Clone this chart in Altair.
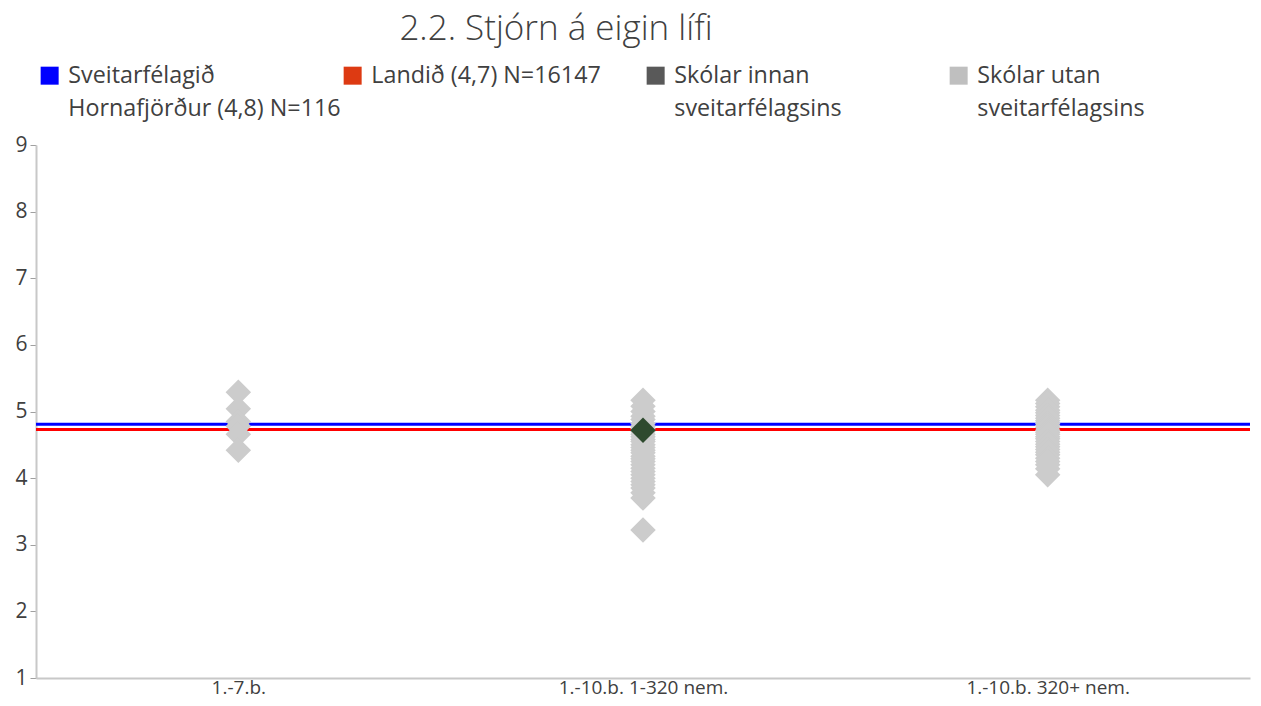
import altair as alt
import pandas as pd

# ---- data ----
categories = ["1.-7.b.", "1.-10.b. 1-320 nem.", "1.-10.b. 320+ nem."]

# schools outside the municipality (light grey diamonds)
cat1_values = [5.29, 5.04, 4.85, 4.78, 4.66, 4.42]
cat2_values = [5.17, 5.08, 5.00, 4.93, 4.88, 4.82, 4.78, 4.74, 4.70, 4.66,
               4.62, 4.58, 4.55, 4.50, 4.46, 4.42, 4.38, 4.33, 4.29, 4.25,
               4.20, 4.15, 4.10, 4.05, 4.00, 3.95, 3.90, 3.85, 3.78, 3.70, 3.22]
cat3_values = [5.17, 5.12, 5.07, 5.02, 4.98, 4.94, 4.90, 4.86, 4.82, 4.79,
               4.76, 4.72, 4.69, 4.66, 4.62, 4.59, 4.55, 4.51, 4.47, 4.43,
               4.39, 4.35, 4.30, 4.25, 4.20, 4.14, 4.05]

# school inside the municipality (dark diamond)
inside_category = ["1.-10.b. 1-320 nem."]
inside_values = [4.72]

# reference lines
ref_names = ["Sveitarfélagið Hornafjörður (4,8) N=116", "Landið (4,7) N=16147"]
ref_values = [4.81, 4.73]
ref_colors = ["#0000FF", "#FF0000"]

# legend
legend_names = ["Sveitarfélagið|Hornafjörður (4,8) N=116",
                "Landið (4,7) N=16147| ",
                "Skólar innan|sveitarfélagsins",
                "Skólar utan|sveitarfélagsins"]
legend_colors = ["#0000FF", "#DD3A12", "#595959", "#BFBFBF"]

y_ticks = [1, 2, 3, 4, 5, 6, 7, 8, 9]

# ---- tables ----
outside_df = pd.DataFrame(
    {"cat": [categories[0]] * len(cat1_values)
            + [categories[1]] * len(cat2_values)
            + [categories[2]] * len(cat3_values),
     "value": cat1_values + cat2_values + cat3_values})
inside_df = pd.DataFrame({"cat": inside_category, "value": inside_values})
ref_df = pd.DataFrame({"name": ref_names, "value": ref_values, "color": ref_colors})
legend_df = pd.DataFrame({"series": legend_names, "cat": [categories[0]] * 4,
                          "value": [5.0] * 4})

FONT = "Open Sans"
TXT = "#404040"

x_enc = alt.X("cat:N", scale=alt.Scale(domain=categories, type="point", padding=0.5),
              axis=alt.Axis(title=None, labelAngle=0, ticks=False, labelFontSize=19,
                            labelColor=TXT, labelPadding=0, domainColor="#C8C8C8",
                            domainWidth=2, labelFont=FONT, grid=False))
y_scale = alt.Scale(domain=[1, 9], nice=False)
y_axis = alt.Axis(title=None, values=y_ticks, grid=False, labelFontSize=21, labelColor=TXT,
                  tickColor="#A0A0A0", tickSize=6, labelPadding=3, domainColor="#C8C8C8",
                  domainWidth=2, labelFont=FONT)

lines = alt.Chart(ref_df).mark_rule(strokeWidth=3).encode(
    y=alt.Y("value:Q", scale=y_scale, axis=y_axis),
    color=alt.Color("color:N", scale=None),
)

legend_layer = alt.Chart(legend_df).mark_point(shape="square", filled=True, opacity=0).encode(
    x=x_enc,
    y=alt.Y("value:Q", scale=y_scale, axis=y_axis),
    color=alt.Color("series:N",
                    scale=alt.Scale(domain=legend_names, range=legend_colors),
                    legend=alt.Legend(
                        title=None, orient="none", legendX=2, legendY=-81,
                        direction="horizontal", columns=4, columnPadding=0,
                        gridAlign="all", symbolType="square", symbolSize=324,
                        symbolOpacity=1, symbolStrokeWidth=0,
                        labelFontSize=23.3, labelFont=FONT, labelColor=TXT,
                        labelLimit=400, labelOffset=7, labelBaseline="middle",
                        labelExpr="split(datum.label, '|')", rowPadding=6)),
)

outside_pts = alt.Chart(outside_df).mark_point(shape="diamond", filled=True, size=650,
                                               opacity=1, color="#CCCCCC").encode(
    x=x_enc, y=alt.Y("value:Q", scale=y_scale, axis=y_axis))

inside_pts = alt.Chart(inside_df).mark_point(shape="diamond", filled=True, size=650,
                                             opacity=1, color="#2E4A2E").encode(
    x=x_enc, y=alt.Y("value:Q", scale=y_scale, axis=y_axis))

chart = alt.layer(lines, legend_layer, outside_pts, inside_pts).properties(
    width=1214, height=533,
    autosize=alt.AutoSizeParams(type="none"),
    padding={"left": 28, "top": 137, "right": 3, "bottom": 20},
    title=alt.TitleParams("2.2. Stjórn á eigin lífi", fontSize=35, font=FONT,
                          fontWeight=300, color=TXT, anchor="middle", dx=-87, dy=-7,
                          offset=10),
).configure(
    style={"guide-label": {"lineHeight": 33}},
    view=alt.ViewConfig(stroke=None),
)

chart.save("out.html", embed_options={"renderer": "svg", "actions": False})
